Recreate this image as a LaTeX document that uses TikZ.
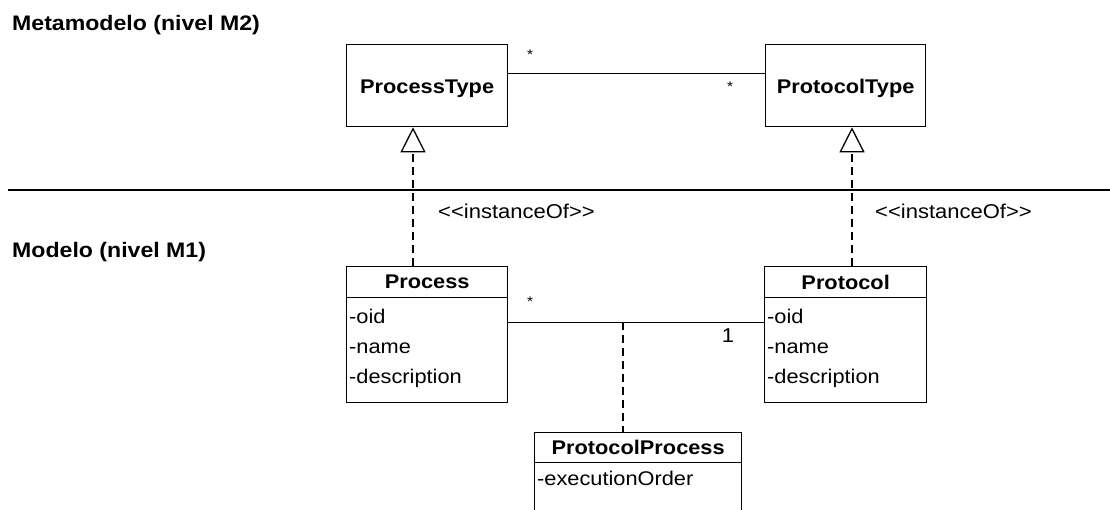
\documentclass[tikz,border=0pt]{standalone}
\usepackage{fontspec}
\setmainfont{Liberation Sans}[FakeStretch=1.1]
\usetikzlibrary{arrows.meta,calc}
\begin{document}
\begin{tikzpicture}[x=1pt,y=-1pt,
  cls/.style={draw, line width=1.3pt, inner sep=0pt, anchor=north west},
  cname/.style={font=\fontsize{19.8}{22}\selectfont\bfseries, inner sep=0pt},
  attr/.style={font=\fontsize{19.8}{22}\selectfont, inner sep=0pt, anchor=base west},
  title/.style={font=\fontsize{21}{24}\selectfont\bfseries, inner sep=0pt, anchor=west},
  lbl/.style={font=\fontsize{20}{22}\selectfont, inner sep=0pt},
  star/.style={font=\fontsize{14}{16}\selectfont, inner sep=0pt, anchor=base},
  assoc/.style={line width=1.3pt},
  realize/.style={line width=1.3pt, dash pattern=on 8pt off 5pt, -{Triangle[open, length=25pt, width=25pt, line width=1.3pt]}},
  dep/.style={line width=1.3pt, dash pattern=on 8pt off 5pt}]
\clip (0,0) rectangle (1110,509);
\fill[white] (0,0) rectangle (1110,509);

% titles
\node[title] (t1) at (12,25) {Metamodelo (nivel M2)};
\node[title] (t2) at (12,252.5) {Modelo (nivel M1)};

% separator
\coordinate (sepL) at (8,190);
\coordinate (sepR) at (1112,190);
\draw[line width=1.3pt] (sepL) -- (sepR);

% M2 classes
\node[cls, minimum width=161pt, minimum height=82pt] (procT) at (346,44) {};
\node[cname] (procTl) at ([yshift=-3pt]procT.center) {ProcessType};
\node[cls, minimum width=160pt, minimum height=82pt] (protT) at (765,44) {};
\node[cname] (protTl) at ([yshift=-3pt]protT.center) {ProtocolType};

% M1 classes
\node[cls, minimum width=161pt, minimum height=31pt] (procH) at (346,266) {};
\node[cname] (procHl) at (procH.center) {Process};
\node[cls, minimum width=161pt, minimum height=105pt] (procB) at (346,297) {};
\node[attr] (procA1) at (349,323) {-oid};
\node[attr] (procA2) at (349,353) {-name};
\node[attr] (procA3) at (349,383) {-description};

\node[cls, minimum width=162pt, minimum height=31pt] (protH) at (764,266) {};
\node[cname] (protHl) at (protH.center) {Protocol};
\node[cls, minimum width=162pt, minimum height=105pt] (protB) at (764,297) {};
\node[attr] (protA1) at (767,323) {-oid};
\node[attr] (protA2) at (767,353) {-name};
\node[attr] (protA3) at (767,383) {-description};

\node[cls, minimum width=207pt, minimum height=30pt] (ppH) at (534,432) {};
\node[cname] (ppHl) at (ppH.center) {ProtocolProcess};
\node[cls, minimum width=207pt, minimum height=80pt] (ppB) at (534,462) {};
\node[attr] (ppA1) at (537,485) {-executionOrder};

% instanceOf realizations
\draw[realize] ([xshift=67pt]procH.north west) -- ([xshift=67pt]procT.south west);
\draw[realize] ([xshift=88pt]protH.north west) -- ([xshift=87pt]protT.south west);
\node[lbl, anchor=west] (io1) at (438,211) {{<}{<}instanceOf{>}{>}};
\node[lbl, anchor=west] (io2) at (875,211) {{<}{<}instanceOf{>}{>}};

% associations
\draw[assoc] ([yshift=12pt]procT.east) coordinate (a1) -- (a1 -| protT.west);
\node[star] (m1) at (530,59) {*};
\node[star] (m2) at (730,91) {*};

\draw[assoc] ([yshift=27.5pt]procB.east) coordinate (a2) -- (a2 -| protB.west);
\node[star] (m3) at (530,306) {*};
\node[lbl] (m4) at (728,336) {1};

\coordinate (amid) at (623,322);
\draw[dep] (amid) -- (amid |- ppH.north);
\end{tikzpicture}
\end{document}
